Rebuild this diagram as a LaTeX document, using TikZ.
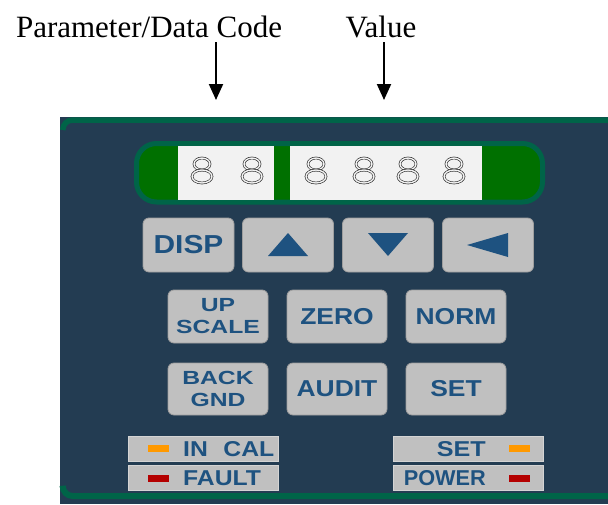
\documentclass[tikz,border=0pt]{standalone}
\usepackage{fontspec}
\usepackage{graphicx}
\setmainfont{Liberation Serif}
\setsansfont{Liberation Sans}
\usetikzlibrary{arrows.meta}
\definecolor{panel}{RGB}{35,60,82}
\definecolor{band}{RGB}{0,100,72}
\definecolor{lcd}{RGB}{0,112,0}
\definecolor{lcdwhite}{RGB}{242,242,242}
\definecolor{keygray}{RGB}{192,192,192}
\definecolor{keyedge}{RGB}{158,158,158}
\definecolor{keyblue}{RGB}{30,82,128}
\definecolor{ledorange}{RGB}{255,153,0}
\definecolor{ledred}{RGB}{180,0,0}
\definecolor{tagedge}{RGB}{212,212,212}
\newcommand{\kw}[2]{\scalebox{#1}[1]{#2}}
\begin{document}
\begin{tikzpicture}[x=1pt,y=-1pt,
  key/.style={draw=keyedge, line width=0.8pt, fill=keygray, rounded corners=6pt, inner sep=0pt, text=keyblue},
  keyA/.style={key, minimum width=91pt, minimum height=54pt},
  keyB/.style={key, minimum width=100pt, minimum height=53pt},
  keyC/.style={key, minimum width=100pt, minimum height=52pt},
  onefont/.style={font=\sffamily\bfseries\fontsize{23}{23}\selectfont},
  twofont/.style={font=\sffamily\bfseries\fontsize{19}{22}\selectfont, align=center},
  tag/.style={draw=tagedge, line width=0.7pt, fill=keygray, minimum width=150pt, minimum height=25pt, inner sep=0pt},
  tagtext/.style={font=\sffamily\bfseries\fontsize{21.5}{21.5}\selectfont, text=keyblue, inner sep=0pt},
  digit/.style={draw=black!85, line width=0.6pt, double=lcdwhite, double distance=1.4pt},
  pointer/.style={line width=2pt, -{Triangle[width=14pt,length=16pt]}},
  glyph/.style={fill=keyblue}
]
\useasboundingbox (0,0) rectangle (608,504);
\fill[white] (0,0) rectangle (608,504);

% labels and pointers
\node[anchor=base, font=\fontsize{31}{31}\selectfont, inner sep=0pt] (plabel) at (149,37) {Parameter/Data Code};
\node[anchor=base, font=\fontsize{31}{31}\selectfont, inner sep=0pt] (vlabel) at (381,37) {Value};
\coordinate (p1) at (216,42);
\coordinate (p2) at (216,100);
\coordinate (v1) at (384,42);
\coordinate (v2) at (384,100);
\draw[pointer] (p1) -- (p2);
\draw[pointer] (v1) -- (v2);

% panel
\fill[panel] (60,117) rectangle (608,504);
\draw[band, line width=5.5pt, rounded corners=10pt] (62.7,130) -- (62.7,120) -- (608,120);
\draw[band, line width=6pt, rounded corners=10pt] (62.7,487) -- (62.7,496) -- (608,496);

% display
\draw[band, line width=5pt, fill=lcd, rounded corners=20pt] (136.5,143.5) rectangle (542.5,202);
\fill[lcdwhite] (178,146) rectangle (274,199.5);
\fill[lcdwhite] (290,146) rectangle (482,199.5);
\foreach \x in {202,252,316,364,408,454} {
  \draw[digit] (\x,164) ellipse [x radius=8pt, y radius=6pt];
  \draw[digit] (\x,176.5) ellipse [x radius=10pt, y radius=6.5pt];
}

% keys row 1
\node[keyA, onefont] (disp) at (188.5,245) {\kw{1.15}{\fontsize{26}{26}\selectfont DISP}};
\node[keyA] (up) at (288,245) {};
\node[keyA] (down) at (388,245) {};
\node[keyA] (left) at (488,245) {};
\fill[glyph] ([yshift=12pt]up.center) -- ([xshift=-20pt,yshift=-11pt]up.center) -- ([xshift=20pt,yshift=-11pt]up.center) -- cycle;
\fill[glyph] ([yshift=-11pt]down.center) -- ([xshift=-20pt,yshift=12pt]down.center) -- ([xshift=20pt,yshift=12pt]down.center) -- cycle;
\fill[glyph] ([xshift=-21pt]left.center) -- ([xshift=20pt,yshift=-12pt]left.center) -- ([xshift=20pt,yshift=12pt]left.center) -- cycle;

% keys row 2
\node[keyB, twofont] (upscale) at (218,316.5) {\kw{1.3}{UP}\\\kw{1.3}{SCALE}};
\node[keyB, onefont] (zero) at (337,316.5) {\kw{1.15}{ZERO}};
\node[keyB, onefont] (norm) at (456,316.5) {\kw{1.15}{NORM}};

% keys row 3
\node[keyC, twofont] (backgnd) at (218,389) {\kw{1.3}{BACK}\\\kw{1.3}{GND}};
\node[keyC, onefont] (audit) at (337,389) {\kw{1.15}{AUDIT}};
\node[keyC, onefont] (setkey) at (456,389) {\kw{1.15}{SET}};

% status tags
\node[tag] (incal) at (203,448.5) {};
\node[tag] (fault) at (203,477.5) {};
\node[tag] (setled) at (468,448.5) {};
\node[tag] (power) at (468,477.5) {};
\fill[ledorange] (148,445) rectangle (169,452);
\fill[ledred] (148,475) rectangle (169,482);
\fill[ledorange] (509,445) rectangle (530,452);
\fill[ledred] (509,475) rectangle (530,482);
\node[tagtext, anchor=base west] (incalt) at (183,456.2) {\kw{1.15}{IN\hspace{13.5pt}CAL}};
\node[tagtext, anchor=base west] (faultt) at (183,485.2) {\kw{1.15}{FAULT}};
\node[tagtext, anchor=base east] (sett) at (486,456.2) {\kw{1.17}{SET}};
\node[tagtext, anchor=base east] (powert) at (486,485.2) {\kw{1.01}{POWER}};
\end{tikzpicture}
\end{document}
